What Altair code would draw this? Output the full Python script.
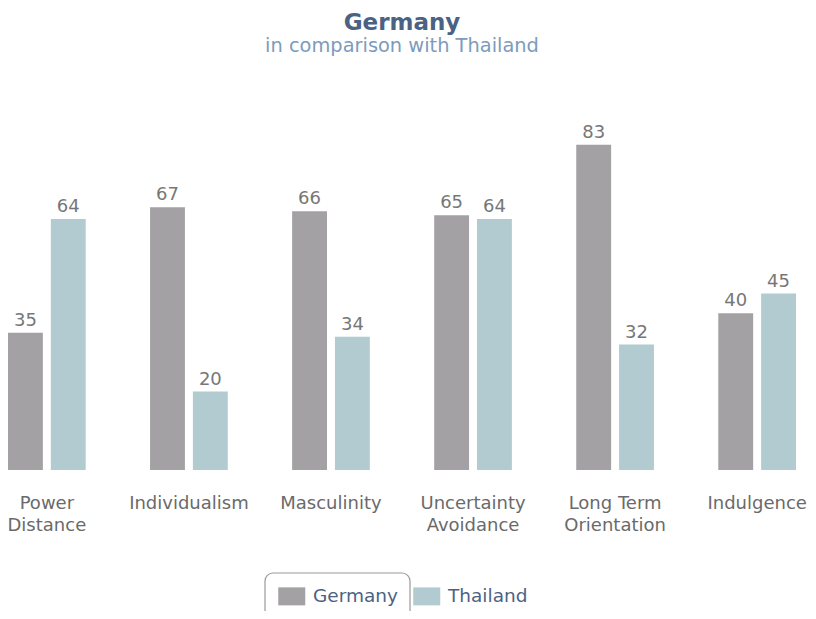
import altair as alt
import pandas as pd

dimensions = ["Power\nDistance", "Individualism", "Masculinity",
              "Uncertainty\nAvoidance", "Long Term\nOrientation", "Indulgence"]
germany = [35, 67, 66, 65, 83, 40]
thailand = [64, 20, 34, 64, 32, 45]
countries = ["Germany", "Thailand"]
colors = ["#a3a1a4", "#b1cbd0"]

rows = []
for d, g, t in zip(dimensions, germany, thailand):
    rows.append({"dimension": d, "country": "Germany", "value": g})
    rows.append({"dimension": d, "country": "Thailand", "value": t})
df = pd.DataFrame(rows)

FONT = "DejaVu Sans"

x = alt.X("dimension:N", sort=dimensions,
          scale=alt.Scale(paddingInner=0.453, paddingOuter=0),
          axis=alt.Axis(title=None, labelAngle=0, domain=False, ticks=False,
                        labelExpr="split(datum.value, '\\n')",
                        labelFontSize=18, labelColor="#6a6a6a", labelFont=FONT,
                        labelPadding=24, labelLineHeight=22, labelLimit=200))
xo = alt.XOffset("country:N", sort=countries,
                 scale=alt.Scale(paddingInner=0.186, paddingOuter=0))
y = alt.Y("value:Q", scale=alt.Scale(domain=[0, 100]), axis=None)

base = alt.Chart(df).encode(x=x, xOffset=xo, y=y)

bars = base.mark_bar().encode(
    color=alt.Color("country:N", sort=countries,
                    scale=alt.Scale(domain=countries, range=colors),
                    legend=alt.Legend(title=None, orient="none", direction="horizontal",
                                      legendX=274.5, legendY=509,
                                      symbolType="M-1.5,-1H1.5V1H-1.5Z", symbolSize=324,
                                      symbolStrokeWidth=0,
                                      labelFontSize=18.5, labelColor="#4d6282",
                                      labelFont=FONT, columnPadding=14,
                                      symbolOffset=0, labelOffset=12))
)

labels = base.mark_text(baseline="bottom", dy=-3, fontSize=18,
                        color="#777777", font=FONT).encode(text="value:Q")

box = alt.Chart(pd.DataFrame({"k": [0]})).mark_rect(
    fill="white", fillOpacity=0, stroke="#9a9a9a", strokeWidth=1.2, cornerRadius=8
).encode(x=alt.value(257), x2=alt.value(402), y=alt.value(495), y2=alt.value(545))

chart = alt.layer(bars, labels, box).properties(
    width=788, height=392,
    autosize=alt.AutoSizeParams(type="none"),
    padding={"left": 0, "top": 70, "right": 12, "bottom": 141},
    title=alt.TitleParams(text="Germany", subtitle="in comparison with Thailand",
                          anchor="middle", font=FONT, fontSize=23,
                          fontWeight="bold", color="#4a6283",
                          subtitleFont=FONT, subtitleFontSize=19.4,
                          subtitleColor="#7d9bbb", subtitlePadding=2, offset=23)
).configure_view(stroke=None)

chart.save("out.html", embed_options={"renderer": "svg", "actions": False})
